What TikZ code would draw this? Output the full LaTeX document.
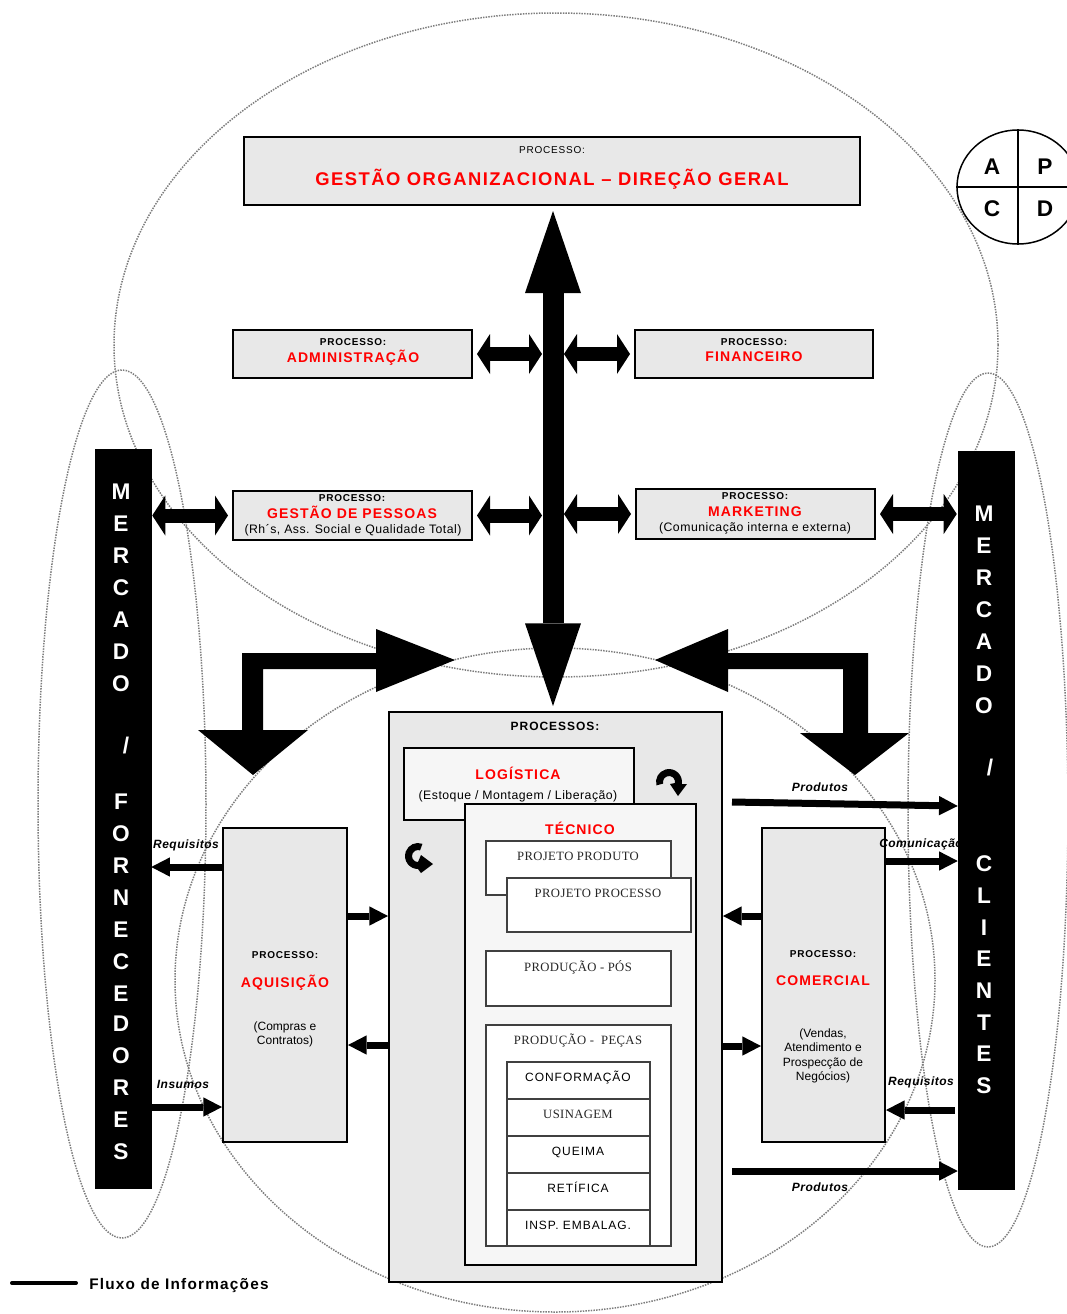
\documentclass[tikz,border=0pt]{standalone}
\usepackage{fontspec}
\setmainfont{Liberation Sans}
\newfontfamily\trk[LetterSpace=8]{Liberation Sans}
\newfontfamily\trkl[LetterSpace=4]{Liberation Sans}
\newfontfamily\serx[LetterSpace=3]{Liberation Serif}
\usetikzlibrary{arrows.meta,fit,calc,shapes.geometric}
\definecolor{boxgray}{RGB}{232,232,232}
\definecolor{paper}{RGB}{246,246,246}
\definecolor{dotgray}{RGB}{125,125,125}
\definecolor{titred}{RGB}{255,0,0}
\newdimen\px \px=0.75pt
\begin{document}
\begin{tikzpicture}[x=0.75pt,y=-0.75pt,
  every node/.style={inner sep=0pt},
  box/.style={draw=black, line width=2\px, fill=boxgray, inner sep=0pt},
  pbox/.style={draw=black, line width=2\px, fill=paper, inner sep=0pt},
  wbox/.style={draw=black!75, line width=1.2\px, fill=white, inner sep=0pt},
  blackbar/.style={fill=black, draw=black, inner sep=0pt},
  txt/.style={text depth=0pt, anchor=center},
  proc/.style={txt, text height=5.4pt, font=\trk\bfseries\fontsize{7.5}{9}\selectfont},
  procr/.style={txt, text height=5.4pt, font=\trk\fontsize{7.5}{9}\selectfont},
  ttl/.style={txt, text height=7.5pt, text=titred, font=\trk\bfseries\fontsize{10.5}{12}\selectfont},
  bigttl/.style={txt, text height=9.9pt, text=titred, font=\trk\bfseries\fontsize{13.8}{15}\selectfont},
  sub/.style={txt, text height=6.6pt, font=\trkl\fontsize{9.2}{11}\selectfont},
  note/.style={txt, text height=6.45pt, font=\fontsize{9}{11}\selectfont},
  ser/.style={txt, text height=6.3pt, text=black!85, font=\serx\fontsize{9.5}{11}\selectfont},
  stk/.style={txt, text height=6.45pt, font=\trk\fontsize{9}{11}\selectfont},
  head/.style={txt, text height=6.45pt, font=\trk\bfseries\fontsize{9}{11}\selectfont},
  barletter/.style={txt, text height=12.2pt, text=white, font=\bfseries\fontsize{17}{19}\selectfont},
  pdcaletter/.style={txt, text height=12.2pt, font=\bfseries\fontsize{17}{19}\selectfont},
  lab/.style={txt, text height=6.45pt, font=\trkl\bfseries\itshape\fontsize{9}{11}\selectfont},
  legendtext/.style={txt, text height=8.2pt, font=\trk\bfseries\fontsize{11.5}{13}\selectfont},
  dotline/.style={draw=dotgray, line width=1.5\px, dash pattern=on 1.1pt off 0.9pt},
  bigdbl/.style={line width=15.75pt,
    {Triangle[length=61.5pt,width=42pt,line width=0pt]}-{Triangle[length=62pt,width=42pt,line width=0pt]}},
  dbl/.style={line width=10.5pt,
    {Triangle[length=9.75pt,width=30pt,line width=0pt]}-{Triangle[length=9.75pt,width=30pt,line width=0pt]}},
  flow/.style={line width=5.25pt, -{Triangle[length=14pt,width=14.5pt,line width=0pt]}},
]
\useasboundingbox (0,0) rectangle (1067,1314);

% dotted enclosing ellipses
\draw[dotline] (556,345) ellipse [x radius=442, y radius=332];
\draw[dotline] (555,980) ellipse [x radius=380, y radius=332];
\draw[dotline] (122,804) ellipse [x radius=84, y radius=434];
\draw[dotline] (988,810) ellipse [x radius=80, y radius=437];

% PDCA cycle
\node[draw, line width=1.5\px, ellipse, minimum width=122\px, minimum height=114\px] (pdca) at (1018,187) {};
\draw[line width=1.5\px] (pdca.north) -- (pdca.south);
\draw[line width=1.5\px] (pdca.west) -- (pdca.east);
\node[pdcaletter] at (992,166) {A};
\node[pdcaletter] at (1045,166) {P};
\node[pdcaletter] at (992,208) {C};
\node[pdcaletter] at (1045,208) {D};

% top management box
\node[box, fit={(244,137) (860,205)}] (gest) {};
\node[procr] at (552,150) {PROCESSO:};
\node[bigttl] at (552,179) {GESTÃO ORGANIZACIONAL – DIREÇÃO GERAL};

% support processes
\node[box, fit={(233,330) (472,378)}] (adm) {};
\node[proc] at (353,342) {PROCESSO:};
\node[ttl] at (353,357) {ADMINISTRAÇÃO};

\node[box, fit={(635,330) (873,378)}] (fin) {};
\node[proc] at (754,342) {PROCESSO:};
\node[ttl] at (754,356) {FINANCEIRO};

\node[box, fit={(233,491) (472,540)}] (gp) {};
\node[proc] at (352,498) {PROCESSO:};
\node[ttl] at (352,513) {GESTÃO DE PESSOAS};
\node[sub] at (353,529) {(Rh´s, Ass. Social e Qualidade Total)};

\node[box, fit={(636,489) (875,539)}] (mk) {};
\node[proc] at (755,496) {PROCESSO:};
\node[ttl] at (755,511) {MARKETING};
\node[sub] at (755,527) {(Comunicação interna e externa)};

% market bars
\node[blackbar, fit={(95,449) (151,1188)}] (mf) {};
\node[blackbar, fit={(958,451) (1014,1189)}] (mc) {};
\foreach \c/\yy in {M/491,E/523,R/555,C/587,A/619,D/651,O/683,F/801,O/833,R/865,N/897,E/929,C/961,E/993,D/1023,O/1055,R/1087,E/1119,S/1151}
  \node[barletter] at (121,\yy) {\c};
\node[barletter] at (126,745) {/};
\foreach \c/\yy in {M/513,E/545,R/577,C/609,A/641,D/673,O/705,C/863,L/895,I/927,E/958,N/990,T/1022,E/1053,S/1085}
  \node[barletter] at (984,\yy) {\c};
\node[barletter] at (990,767) {/};

% core processes
\node[box, fit={(389,712) (722,1282)}] (proc) {};
\node[head] at (555,726) {PROCESSOS:};

\node[pbox, fit={(404,748) (634,820)}] (log) {};
\node[ttl] at (518,774) {LOGÍSTICA};
\node[sub] at (518,795) {(Estoque / Montagem / Liberação)};

\node[pbox, fit={(465,804) (696,1265)}] (tec) {};
\node[ttl] at (580,829) {TÉCNICO};

\node[wbox, fit={(486,841) (671,895)}] (pprod) {};
\node[ser] at (578,856) {PROJETO PRODUTO};
\node[wbox, fit={(507,878) (691,932)}] (pproc) {};
\node[ser] at (598,893) {PROJETO PROCESSO};
\node[wbox, fit={(486,951) (671,1006)}] (pos) {};
\node[ser] at (578,967) {PRODUÇÃO - PÓS};
\node[wbox, fit={(486,1025) (671,1246)}] (pec) {};
\node[ser] at (578,1040) {PRODUÇÃO -\ \ PEÇAS};

\node[wbox, fit={(507,1062) (650,1099)}] (s1) {};
\node[wbox, fit={(507,1099) (650,1136)}] (s2) {};
\node[wbox, fit={(507,1136) (650,1173)}] (s3) {};
\node[wbox, fit={(507,1173) (650,1210)}] (s4) {};
\node[wbox, fit={(507,1210) (650,1246)}] (s5) {};
\node[stk] at (578,1077) {CONFORMAÇÃO};
\node[ser] at (578,1114) {USINAGEM};
\node[stk] at (578,1151) {QUEIMA};
\node[stk] at (578,1188) {RETÍFICA};
\node[stk] at (578,1225) {INSP. EMBALAG.};

% cycle marks between logistics and technical (bent block arrows)
\coordinate (cyA) at (669,782);
\fill ($(cyA)+(165:13)$) arc [start angle=165, end angle=370, radius=13]
  -- (687,784) -- (678,796) -- (670,784) -- ($(cyA)+(10:6)$)
  arc [start angle=10, end angle=-195, radius=6] -- cycle;
\coordinate (cyB) at (418,856);
\fill ($(cyB)+(290:13)$) arc [start angle=290, end angle=90, radius=13]
  -- (421,873) -- (433,864) -- (421,855) -- ($(cyB)+(90:6)$)
  arc [start angle=90, end angle=290, radius=6] -- cycle;

% acquisition and commercial
\node[box, fit={(223,828) (347,1142)}] (aq) {};
\node[proc] at (285,955) {PROCESSO:};
\node[ttl] at (285,982) {AQUISIÇÃO};
\node[note] at (285,1026) {(Compras e};
\node[note] at (285,1040) {Contratos)};

\node[box, fit={(762,828) (885,1142)}] (com) {};
\node[proc] at (823,954) {PROCESSO:};
\node[ttl] at (823,980) {COMERCIAL};
\node[note] at (823,1033) {(Vendas,};
\node[note] at (823,1047) {Atendimento e};
\node[note] at (823,1062) {Prospecção de};
\node[note] at (823,1076) {Negócios)};

% central axis
\coordinate (ax) at (553,0);
\coordinate (shL) at (542,0);
\coordinate (shR) at (564,0);
\draw[bigdbl, shorten <=3.75pt, shorten >=3.75pt] (ax |- gest.south) -- (ax |- proc.north);

\draw[dbl, shorten <=3pt] (adm.east) -- (shL |- adm.east);
\draw[dbl, shorten >=3pt] (shR |- fin.west) -- (fin.west);
\draw[dbl, shorten <=3pt] (gp.east) -- (shL |- gp.east);
\draw[dbl, shorten >=3pt] (shR |- mk.west) -- (mk.west);
\draw[dbl, shorten <=0.75pt, shorten >=3pt] (mf.east |- gp.west) -- (gp.west);
\draw[dbl, shorten <=3pt, shorten >=0.75pt] (mk.east) -- (mc.west |- mk.east);

% L-shaped distribution arrows
\fill (242,730) -- (242,653) -- (376,653) -- (376,629) -- (455,660) -- (376,692) -- (376,669)
  -- (263,669) -- (263,730) -- (308,730) -- (253,775) -- (198,730) -- cycle;
\fill (868,733) -- (868,653) -- (728,653) -- (728,629) -- (655,660) -- (728,692) -- (728,669)
  -- (843,669) -- (843,733) -- (909,733) -- (855,775) -- (800,733) -- cycle;

% information flows
\draw[flow] (aq.west |- 0,867) -- (mf.east |- 0,867);
\draw[flow] (mf.east |- 0,1107) -- (aq.west |- 0,1107);
\draw[flow] (aq.east |- 0,916) -- (proc.west |- 0,916);
\draw[flow] (proc.west |- 0,1045) -- (aq.east |- 0,1045);
\draw[flow] (com.west |- 0,916) -- (proc.east |- 0,916);
\draw[flow] (proc.east |- 0,1046) -- (com.west |- 0,1046);
\draw[flow] (com.east |- 0,861) -- (mc.west |- 0,861);
\draw[flow, shorten <=2.25pt] (mc.west |- 0,1110) -- (com.east |- 0,1110);
\coordinate (pa) at (732,802);
\coordinate (pb) at (732,1171);
\draw[flow] (pa) -- (mc.west |- 0,806);
\draw[flow] (pb) -- (mc.west |- 0,1171);

\node[lab] at (186,844) {Requisitos};
\node[lab] at (183,1084) {Insumos};
\node[lab] at (820,787) {Produtos};
\node[lab] at (921,1081) {Requisitos};
\node[lab] at (820,1187) {Produtos};
\begin{scope}
  \clip (0,0) rectangle (958,1314);
  \node[lab, anchor=west] at (879,843) {Comunicação};
\end{scope}

% legend
\coordinate (lg1) at (12,1283);
\coordinate (lg2) at (76,1283);
\draw[line width=4\px, line cap=round] (lg1) -- (lg2);
\node[legendtext, anchor=west] at (89,1284) {Fluxo de Informações};
\end{tikzpicture}
\end{document}
